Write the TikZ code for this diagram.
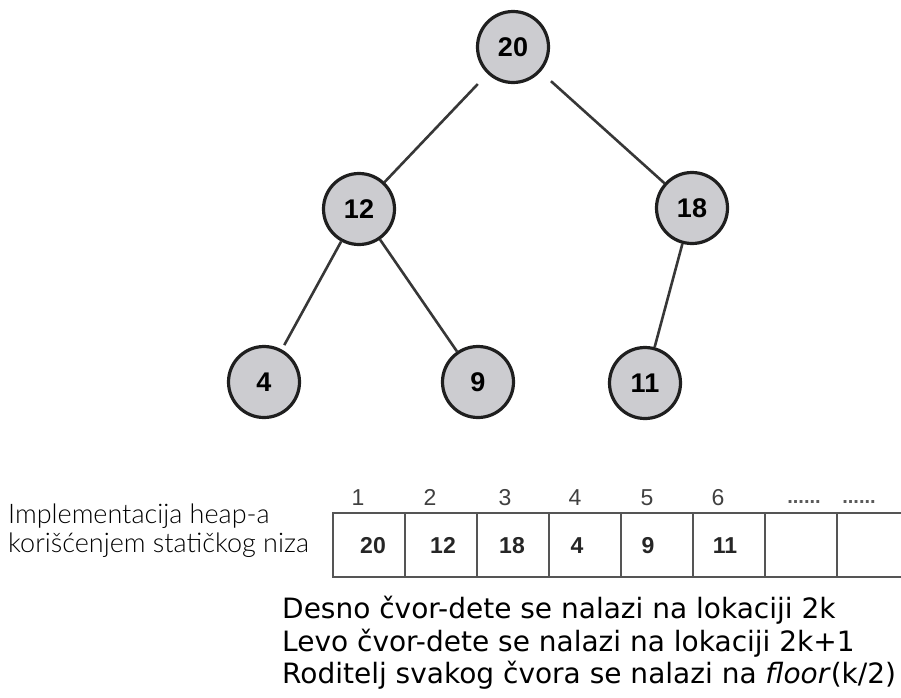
\documentclass[tikz,border=0pt]{standalone}
\usepackage{fontspec}
\setmainfont{DejaVu Sans}
\newfontfamily\arialfont{Liberation Sans}
\newfontfamily\thinfont{Lato}[UprightFont=* Light]
\definecolor{nodegray}{RGB}{204,204,208}
\definecolor{linegray}{RGB}{55,55,55}
\definecolor{cellgray}{RGB}{85,85,85}

\begin{document}
\begin{tikzpicture}[x=1pt, y=-1pt,
    heapnode/.style={circle, draw=black!88, line width=3.2pt, fill=nodegray, minimum size=71pt, inner sep=0pt,
        font=\arialfont\bfseries\fontsize{27}{27}\selectfont},
    treeline/.style={draw=linegray, line width=2.6pt},
    cell/.style={draw=cellgray, line width=2.6pt, minimum width=72pt, minimum height=64pt, inner sep=0pt},
    val/.style={anchor=base, inner sep=0pt, text=black!85, font=\arialfont\bfseries\fontsize{23}{23}\selectfont},
    idx/.style={anchor=base, inner sep=0pt, text=black!75, font=\arialfont\fontsize{23}{23}\selectfont},
    note/.style={anchor=base west, inner sep=0pt, font=\fontsize{28}{33}\selectfont}]
    \useasboundingbox (0,0) rectangle (901,697);
    \clip (0,0) rectangle (901,697);

    % the heap as a tree
    \node[heapnode] (n20) at (513,47) {20};
    \node[heapnode] (n12) at (359,209) {12};
    \node[heapnode] (n18) at (692,208) {18};
    \node[heapnode] (n4) at (264,382) {4};
    \node[heapnode] (n9) at (478,382) {9};
    \node[heapnode] (n11) at (645,383) {11};

    \draw[treeline, shorten <=14pt] (n20) -- (n12);
    \draw[treeline, shorten <=14pt] (n20) -- (n18);
    \draw[treeline, shorten >=5pt] (n12) -- (n4);
    \draw[treeline] (n12) -- (n9);
    \draw[treeline] (n18) -- (n11);

    % the same heap stored in an array
    \node[cell] (cell1) at (369,545) {};
    \node[cell] (cell2) at (441,545) {};
    \node[cell] (cell3) at (513,545) {};
    \node[cell] (cell4) at (585,545) {};
    \node[cell] (cell5) at (657,545) {};
    \node[cell] (cell6) at (729,545) {};
    \node[cell] (cell7) at (801,545) {};
    \node[cell] (cell8) at (873,545) {};

    \node[val] (v1) at (373,553) {20};
    \node[val] (v2) at (443,553) {12};
    \node[val] (v3) at (512,553) {18};
    \node[val] (v4) at (577,553) {4};
    \node[val] (v5) at (648,553) {9};
    \node[val] (v6) at (725,553) {11};

    \node[idx] (i1) at (358,505) {1};
    \node[idx] (i2) at (430,505) {2};
    \node[idx] (i3) at (505,505) {3};
    \node[idx] (i4) at (575,505) {4};
    \node[idx] (i5) at (647,505) {5};
    \node[idx] (i6) at (718,505) {6};
    \node[idx, text=black!65, font=\arialfont\bfseries\fontsize{20}{20}\selectfont] (dots1) at (804,503) {......};
    \node[idx, text=black!65, font=\arialfont\bfseries\fontsize{20}{20}\selectfont] (dots2) at (859,503) {......};

    \node[anchor=base west, inner sep=0pt, font=\thinfont\fontsize{27}{29}\selectfont] (lbl1) at (8,523) {Implementacija heap-a};
    \node[anchor=base west, inner sep=0pt, font=\thinfont\fontsize{27}{29}\selectfont] (lbl2) at (8,552) {korišćenjem statičkog niza};

    % rules for the indices
    \node[note] (rule1) at (282,618) {Desno čvor-dete se nalazi na lokaciji 2k};
    \node[note] (rule2) at (282,651) {Levo čvor-dete se nalazi na lokaciji 2k+1};
    \node[note] (rule3) at (282,683) {Roditelj svakog čvora se nalazi na \textit{floor}(k/2)};
\end{tikzpicture}
\end{document}
